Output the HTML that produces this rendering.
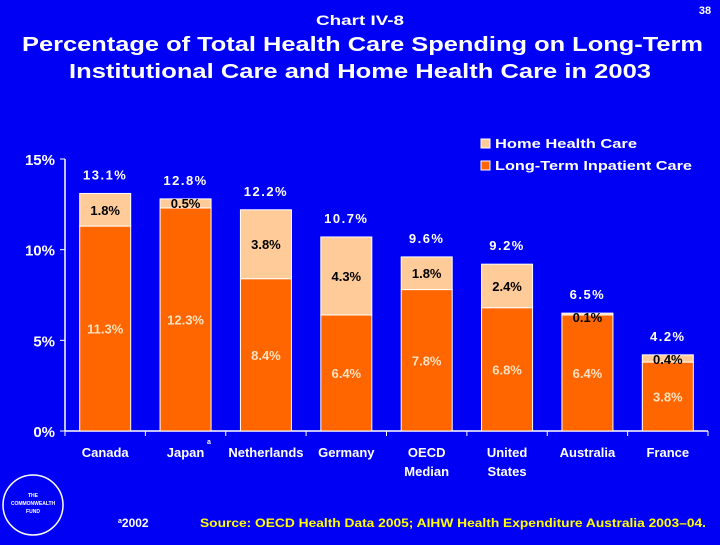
<!DOCTYPE html>
<html><head><meta charset="utf-8"><style>
body{margin:0;background:#0000f5;width:720px;height:540px;overflow:hidden;font-family:"Liberation Sans",Arial,sans-serif}
text{font-family:"Liberation Sans",Arial,sans-serif;font-weight:bold}
</style></head><body>
<svg id="c" width="720" height="540" xmlns="http://www.w3.org/2000/svg">
<rect width="720" height="540" fill="#0000f5"/>
<text x="316" y="25" fill="#fff" font-size="14" textLength="88" lengthAdjust="spacingAndGlyphs">Chart IV-8</text>
<text x="705" y="14" fill="#fff" font-size="11" text-anchor="middle">38</text>
<text x="22" y="51" fill="#ffffff" font-size="20" textLength="681" lengthAdjust="spacingAndGlyphs">Percentage of Total Health Care Spending on Long-Term</text>
<text x="69" y="78" fill="#ffffff" font-size="20" textLength="582" lengthAdjust="spacingAndGlyphs">Institutional Care and Home Health Care in 2003</text>
<rect x="481" y="139" width="9" height="9" fill="#ffcc99" stroke="#fff"/>
<text x="495" y="148" fill="#fff" font-size="13" textLength="142" lengthAdjust="spacingAndGlyphs">Home Health Care</text>
<rect x="481" y="161" width="9" height="9" fill="#ff6600" stroke="#fff"/>
<text x="495" y="170" fill="#fff" font-size="13" textLength="197" lengthAdjust="spacingAndGlyphs">Long-Term Inpatient Care</text>
<g id="plot"></g>
<circle cx="33" cy="505" r="30" fill="none" stroke="#fff" stroke-width="1.5"/>
<text x="33" y="497" fill="#fff" font-size="5" text-anchor="middle">THE</text>
<text x="33" y="505" fill="#fff" font-size="5" text-anchor="middle">COMMONWEALTH</text>
<text x="33" y="513" fill="#fff" font-size="5" text-anchor="middle">FUND</text>
<text x="118" y="527" fill="#fff" font-size="12"><tspan font-size="7" dy="-4">a</tspan><tspan dy="4">2002</tspan></text>
<text x="200" y="527" fill="#ffff00" font-size="12" textLength="506" lengthAdjust="spacingAndGlyphs">Source: OECD Health Data 2005; AIHW Health Expenditure Australia 2003–04.</text>
</svg>
<script>
const categories=["Canada","Japan","Netherlands","Germany","OECD|Median","United|States","Australia","France"];
const ltcValues=[11.3,12.3,8.4,6.4,7.8,6.8,6.4,3.8];
const homeValues=[1.8,0.5,3.8,4.3,1.8,2.4,0.1,0.4];
const totalValues=[13.1,12.8,12.2,10.7,9.6,9.2,6.5,4.2];
const yTicks=[0,5,10,15];
const NS="http://www.w3.org/2000/svg";
const g=document.getElementById('plot');
const x0=65,x1=708,y0=431,yTop=159;
const y=v=>y0-(v/15)*(y0-yTop);
const bw=(x1-x0)/categories.length;
const xc=i=>x0+bw*(i+0.5);
function el(t,a){const e=document.createElementNS(NS,t);for(const k in a)e.setAttribute(k,a[k]);g.appendChild(e);return e;}
function txt(x,yy,s,fill,size,anchor,ls){const e=el('text',{x:x,y:yy,fill:fill,'font-size':size,'text-anchor':anchor||'middle'});if(ls)e.setAttribute('letter-spacing',ls);e.textContent=s;return e;}
let ax=el('line',{x1:x0,y1:yTop,x2:x0,y2:y0,stroke:'#fff','stroke-width':1.5});


let bx=el('line',{x1:x0,y1:y0,x2:x1,y2:y0,stroke:'#fff','stroke-width':1.5});


yTicks.forEach(t=>{
 el('line',{x1:x0-5,y1:y(t),x2:x0,y2:y(t),stroke:'#fff'});
 const l=txt(55,y(t)+6,t+'%','#fff',15,'end');
 
 
});
for(let i=0;i<=categories.length;i++){el('line',{x1:x0+bw*i,y1:y0,x2:x0+bw*i,y2:y0+5,stroke:'#fff'});}
categories.forEach((c,i)=>{
 const cx=xc(i),w=51;
 const b1=el('rect',{x:cx-w/2,y:y(ltcValues[i]),width:w,height:y0-y(ltcValues[i]),fill:'#ff6600',stroke:'#fff','stroke-width':1});
 
 
 const top=ltcValues[i]+homeValues[i];
 const b2=el('rect',{x:cx-w/2,y:y(top),width:w,height:y(ltcValues[i])-y(top),fill:'#ffcc99',stroke:'#fff','stroke-width':1});
 
 
 const tl=txt(cx,y(totalValues[i])-14,totalValues[i].toFixed(1)+'%','#fff',13,'middle',1.5);
 
 
 const hy=homeValues[i]<1?y(top)+9:(y(top)+y(ltcValues[i]))/2+5;
 const hl=txt(cx,hy,homeValues[i].toFixed(1)+'%','#000',13);
 
 
 const ll=txt(cx,(y0+y(ltcValues[i]))/2+5,ltcValues[i].toFixed(1)+'%','#ffe0c0',13);
 
 
 c.split('|').forEach((p,j)=>{
  const cl=txt(cx,457+j*19,p,'#fff',13);
  
  
 });
});
const sup=txt(209,444,'a','#fff',7);


</script>
</body></html>
